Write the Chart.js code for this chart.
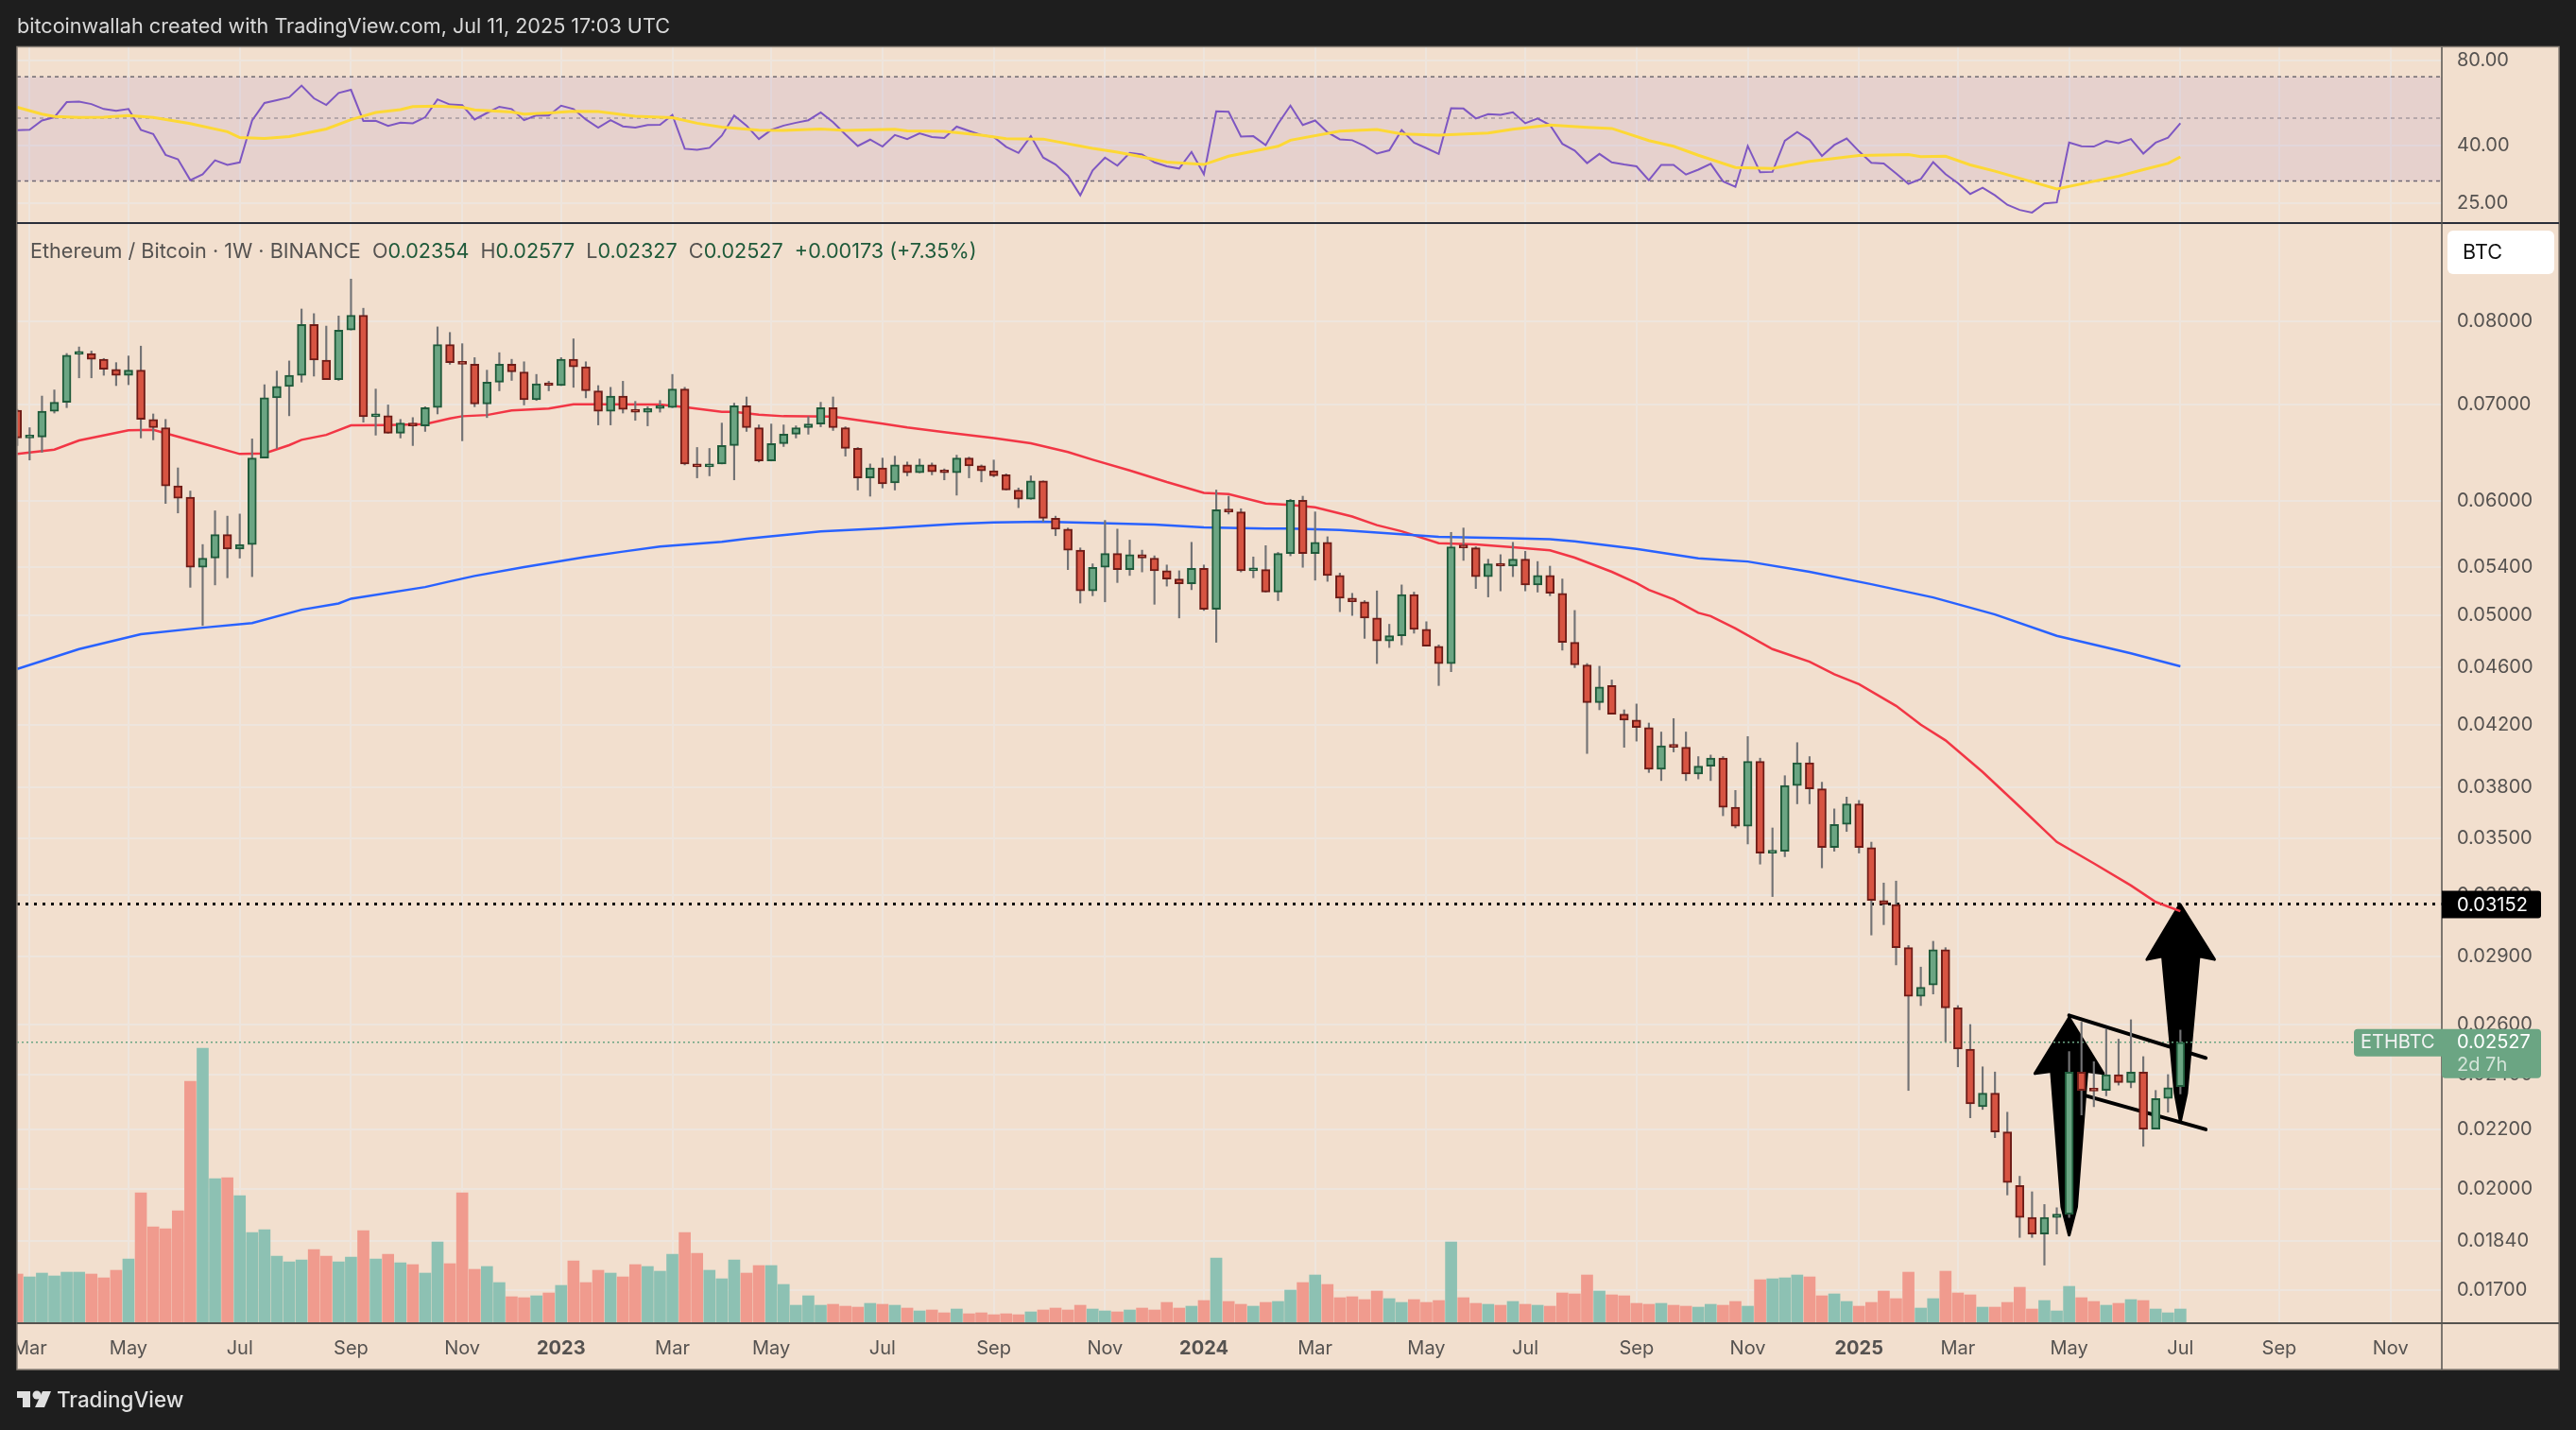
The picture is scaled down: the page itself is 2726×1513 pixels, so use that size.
<!DOCTYPE html>
<html>
<head>
<meta charset="utf-8">
<title>ETHBTC 1W</title>
<script src="https://cdn.jsdelivr.net/npm/chart.js@4"></script>
<style>
  html, body { margin: 0; padding: 0; background: #1e1e1e; }
  canvas { display: block; }
</style>
</head>
<body>
<canvas id="myChart" width="2726" height="1513"></canvas>
<script>
// weekly candles, index 0 = first week of Mar 2022
const opens = [
  0.0694,0.0664,0.0665,0.0693,0.0703,0.0759,0.0760,0.0753,0.0741,0.0734,
  0.0740,0.0684,0.0675,0.0615,0.0604,0.0540,0.0548,0.0569,0.0556,0.0560,
  0.0643,0.0708,0.0721,0.0734,0.0796,0.0752,0.0729,0.0789,0.0808,0.0687,
  0.0688,0.0669,0.0680,0.0677,0.0697,0.0771,0.0749,0.0747,0.0701,0.0726,
  0.0747,0.0738,0.0706,0.0724,0.0722,0.0753,0.0744,0.0716,0.0693,0.0710,
  0.0695,0.0692,0.0696,0.0697,0.0718,0.0637,0.0634,0.0637,0.0656,0.0699,
  0.0675,0.0640,0.0658,0.0668,0.0675,0.0679,0.0697,0.0675,0.0653,0.0623,
  0.0633,0.0618,0.0636,0.0628,0.0636,0.0629,0.0628,0.0643,0.0635,0.0630,
  0.0626,0.0611,0.0602,0.0620,0.0584,0.0574,0.0555,0.0520,0.0540,0.0552,
  0.0538,0.0551,0.0548,0.0537,0.0530,0.0526,0.0539,0.0505,0.0592,0.0590,
  0.0537,0.0538,0.0519,0.0552,0.0601,0.0552,0.0562,0.0533,0.0514,0.0511,
  0.0498,0.0480,0.0484,0.0517,0.0489,0.0476,0.0463,0.0558,0.0557,0.0532,
  0.0543,0.0541,0.0547,0.0525,0.0533,0.0518,0.0479,0.0462,0.0435,0.0447,
  0.0427,0.0423,0.0418,0.0391,0.0406,0.0405,0.0388,0.0393,0.0398,0.0368,
  0.0357,0.0396,0.0342,0.0343,0.0381,0.0395,0.0379,0.0345,0.0358,0.0370,
  0.0345,0.0317,0.0315,0.0294,0.0272,0.0277,0.0293,0.0267,0.0250,0.0228,
  0.0233,0.0219,0.0201,0.0191,0.0186,0.0191,0.0192,0.0241,0.02345,0.0234,
  0.0240,0.0237,0.0241,0.0220,0.0231,0.02354
];
const highs = [
  0.0695,0.0675,0.0710,0.0717,0.0760,0.0768,0.0763,0.0754,0.0749,0.0757,
  0.0769,0.0690,0.0684,0.0633,0.0610,0.0560,0.0591,0.0586,0.0588,0.0663,
  0.0723,0.0739,0.0751,0.0816,0.0810,0.0794,0.0807,0.0856,0.0817,0.0718,
  0.0700,0.0684,0.0686,0.0698,0.0793,0.0786,0.0772,0.0755,0.0740,0.0761,
  0.0753,0.0750,0.0735,0.0727,0.0755,0.0778,0.0750,0.0722,0.0720,0.0727,
  0.0704,0.0698,0.0705,0.0735,0.0720,0.0654,0.0653,0.0680,0.0702,0.0709,
  0.0678,0.0679,0.0678,0.0677,0.0687,0.0703,0.0709,0.0676,0.0654,0.0637,
  0.0643,0.0645,0.0639,0.0642,0.0638,0.0632,0.0646,0.0644,0.0636,0.0641,
  0.0627,0.0613,0.0625,0.0620,0.0586,0.0575,0.0557,0.0543,0.0582,0.0574,
  0.0564,0.0555,0.0550,0.0542,0.0537,0.0562,0.0542,0.0611,0.0605,0.0593,
  0.0549,0.0559,0.0553,0.0602,0.0605,0.0590,0.0567,0.0535,0.0518,0.0512,
  0.0520,0.0493,0.0525,0.0519,0.0495,0.0477,0.0571,0.0575,0.0558,0.0547,
  0.0551,0.0562,0.0554,0.0545,0.0541,0.0530,0.0504,0.0463,0.0461,0.0451,
  0.0430,0.0434,0.0421,0.0415,0.0424,0.0415,0.0399,0.0400,0.0399,0.0378,
  0.0412,0.0398,0.0356,0.0387,0.0408,0.0399,0.0383,0.0367,0.0374,0.0372,
  0.0348,0.0326,0.0327,0.0295,0.0285,0.0297,0.0294,0.0268,0.0260,0.0243,
  0.0241,0.0226,0.0204,0.0199,0.0195,0.0194,0.0249,0.0261,0.0245,0.0258,
  0.0254,0.0262,0.0247,0.0234,0.0240,0.02577
];
const lows = [
  0.0656,0.0641,0.0649,0.0691,0.0697,0.0731,0.0731,0.0734,0.0722,0.0723,
  0.0664,0.0662,0.0598,0.0589,0.0523,0.0492,0.0525,0.0531,0.0548,0.0532,
  0.0643,0.0653,0.0688,0.0726,0.0733,0.0729,0.0728,0.0789,0.0681,0.0667,
  0.0669,0.0664,0.0656,0.0671,0.0690,0.0747,0.0661,0.0698,0.0686,0.0716,
  0.0728,0.0700,0.0705,0.0716,0.0722,0.0720,0.0708,0.0678,0.0678,0.0691,
  0.0683,0.0677,0.0692,0.0697,0.0636,0.0623,0.0625,0.0637,0.0621,0.0671,
  0.0639,0.0640,0.0655,0.0664,0.0668,0.0676,0.0672,0.0645,0.0611,0.0605,
  0.0613,0.0611,0.0625,0.0628,0.0626,0.0621,0.0606,0.0623,0.0619,0.0624,
  0.0611,0.0594,0.0602,0.0581,0.0568,0.0538,0.0510,0.0516,0.0511,0.0527,
  0.0533,0.0536,0.0509,0.0524,0.0498,0.0521,0.0504,0.0479,0.0588,0.0536,
  0.0531,0.0519,0.0512,0.0550,0.0540,0.0529,0.0528,0.0503,0.0500,0.0482,
  0.0463,0.0475,0.0477,0.0486,0.0476,0.0447,0.0457,0.0546,0.0522,0.0515,
  0.0520,0.0532,0.0520,0.0519,0.0516,0.0473,0.0460,0.0401,0.0430,0.0427,
  0.0405,0.0409,0.0389,0.0384,0.0402,0.0384,0.0385,0.0384,0.0363,0.0356,
  0.0347,0.0336,0.0319,0.0340,0.0370,0.0370,0.0334,0.0343,0.0354,0.0342,
  0.0300,0.0305,0.0286,0.0234,0.0268,0.0273,0.0253,0.0243,0.0224,0.0227,
  0.0217,0.0198,0.0185,0.0185,0.0177,0.0186,0.0191,0.0225,0.0228,0.0232,
  0.0236,0.0235,0.0214,0.0220,0.0226,0.02327
];
const closes = [
  0.0664,0.06656,0.0693,0.0703,0.0758,0.0760,0.0753,0.0741,0.0734,0.0740,
  0.0684,0.0675,0.0615,0.0603,0.0540,0.0548,0.0569,0.0556,0.0560,0.0643,
  0.0708,0.0721,0.0734,0.0796,0.0752,0.0729,0.0789,0.0808,0.0687,0.0689,
  0.0669,0.0680,0.0677,0.0697,0.0771,0.0749,0.0747,0.0701,0.0726,0.0747,
  0.0738,0.0706,0.0724,0.0722,0.0753,0.0744,0.0716,0.0693,0.0710,0.0695,
  0.0692,0.0696,0.0697,0.0718,0.0637,0.0634,0.0637,0.0656,0.0699,0.0675,
  0.0640,0.0658,0.0668,0.0675,0.0679,0.0697,0.0675,0.0653,0.0623,0.0633,
  0.0617,0.0636,0.0628,0.0636,0.0629,0.0628,0.0643,0.0635,0.0630,0.0625,
  0.0611,0.0602,0.0620,0.0584,0.0574,0.0555,0.0520,0.0540,0.0552,0.0538,
  0.0551,0.0548,0.0537,0.0530,0.0526,0.0539,0.0505,0.0592,0.0590,0.0537,
  0.0538,0.0519,0.0552,0.0601,0.0552,0.0562,0.0533,0.0514,0.0511,0.0498,
  0.0480,0.0484,0.0517,0.0489,0.0476,0.0463,0.0558,0.0557,0.0532,0.0543,
  0.0541,0.0547,0.0525,0.0533,0.0518,0.0479,0.0462,0.0435,0.0446,0.0427,
  0.0423,0.0418,0.0391,0.0406,0.0405,0.0388,0.0393,0.0398,0.0368,0.0357,
  0.0396,0.0342,0.0343,0.0381,0.0395,0.0379,0.0345,0.0358,0.0370,0.0345,
  0.0317,0.0315,0.0294,0.0272,0.0276,0.0293,0.0267,0.0250,0.0229,0.0233,
  0.0219,0.0202,0.0191,0.0186,0.0191,0.0192,0.0241,0.0234,0.02338,0.0240,
  0.0237,0.0241,0.0220,0.0231,0.0235,0.02527
];
// volume has no axis in the picture, so these are relative units
const volumes = [
  51,48,52,49,53,53,51,47,55,67,
  137,101,99,118,255,290,152,153,134,95,
  98,70,64,66,77,70,64,69,97,67,
  72,63,61,52,85,62,137,56,59,42,
  27,26,28,31,39,65,42,55,52,48,
  61,59,54,72,95,73,55,46,66,52,
  60,60,40,18,28,18,19,17,16,20,
  19,18,15,12,13,10,14,9,10,8,
  9,8,11,13,15,13,18,14,12,11,
  13,15,13,21,15,17,23,68,22,19,
  17,21,22,34,42,50,40,26,27,24,
  33,25,21,24,21,23,85,26,20,19,
  18,22,19,18,17,31,30,50,33,29,
  28,20,19,20,18,17,16,19,18,22,
  17,45,46,47,50,48,28,30,22,17,
  21,33,25,53,15,25,54,31,29,16,
  16,21,37,14,23,12,38,26,22,18,
  20,24,23,14,10,14
];
const rsiValues = [
  45.4,45.5,49.1,50.4,57.0,57.2,56.1,53.9,53.1,53.9,
  45.5,44.0,37.1,35.8,30.2,31.7,35.5,34.2,34.9,49.1,
  56.6,57.9,59.3,65.2,58.8,55.7,61.4,63.0,48.9,49.0,
  47.0,48.2,48.0,50.4,58.3,55.9,55.6,49.5,52.2,54.9,
  53.9,49.2,51.2,51.1,55.4,53.9,49.5,46.3,49.2,46.8,
  46.3,47.3,47.4,51.3,39.0,38.7,39.3,43.4,51.1,47.1,
  42.2,45.5,47.1,48.2,49.2,52.4,48.4,43.8,39.9,42.0,
  39.7,43.6,42.2,44.2,42.9,42.6,46.7,45.1,43.6,42.9,
  39.6,37.7,43.2,36.3,34.3,31.3,26.7,32.7,36.3,34.0,
  37.7,37.2,34.9,33.8,33.2,38.0,31.7,52.9,52.7,43.1,
  43.2,40.2,47.8,55.4,47.3,49.1,44.6,42.1,41.8,39.9,
  37.5,38.5,45.4,41.0,39.2,37.4,54.2,54.1,49.9,51.7,
  51.4,52.5,48.0,49.9,47.3,40.6,38.4,34.7,37.4,34.9,
  34.3,33.8,30.2,34.2,34.2,31.6,32.9,34.5,29.9,28.6,
  39.9,32.2,32.3,41.6,44.7,41.9,36.8,40.2,42.4,38.2,
  34.8,34.6,31.9,29.3,30.5,35.0,31.7,29.5,27.0,28.4,
  26.7,24.7,23.7,23.2,25.0,25.2,41.0,39.8,39.7,41.6,
  40.8,42.2,37.5,41.0,42.7,48.0
];
// the smooth lines are read at their bends only
const rsiMaWeeks = [0,2,3,5,7,9,11,14,17,18,20,22,25,27,29,31,32,34,36,37,40,41,43,45,47,50,53,55,57,60,62,65,67,71,72,75,78,80,83,84,87,89,91,93,96,98,102,103,107,110,112,115,119,121,124,127,129,132,134,136,139,142,145,149,153,154,156,158,160,163,165,170,172,174,175];
const rsiMaValues = [54.7,51.7,50.7,50.3,50.4,51.1,50.3,47.9,44.8,42.7,42.4,43.1,45.8,49.4,52.4,53.6,55.0,55.2,54.7,53.5,52.6,51.7,52.2,52.9,52.8,50.8,50.2,48.0,46.5,45.4,45.3,45.8,45.3,45.7,45.1,44.9,43.6,42.3,42.2,41.4,39.1,37.9,36.5,35.0,34.3,36.7,39.8,41.8,45.0,45.6,44.0,43.6,44.3,45.7,47.3,46.4,46.0,41.7,39.8,37.0,33.5,33.2,35.2,36.9,37.2,36.6,36.7,34.2,32.5,29.8,28.1,31.2,32.9,34.6,36.5];
const emaWeeks = [0,3,5,9,11,15,18,20,22,23,25,27,30,33,35,36,38,40,43,45,47,52,54,57,58,60,62,66,70,72,75,79,82,85,87,90,93,96,98,101,103,105,108,110,112,115,118,121,124,126,129,131,132,134,136,137,139,142,145,147,149,152,154,156,159,162,165,168,171,173,175];
const emaValues = [0.06472,0.06518,0.06614,0.06721,0.06727,0.06581,0.06472,0.06478,0.06564,0.0662,0.06673,0.06776,0.06779,0.06789,0.0685,0.06875,0.06888,0.06938,0.0696,0.07008,0.07008,0.07005,0.06976,0.06923,0.06923,0.06891,0.06875,0.06871,0.06793,0.06752,0.06702,0.0664,0.06584,0.06492,0.06413,0.06304,0.06188,0.06083,0.0607,0.0598,0.05965,0.05944,0.05856,0.05776,0.0572,0.05612,0.05601,0.05576,0.05548,0.05484,0.05361,0.05266,0.05209,0.05131,0.05021,0.04995,0.04897,0.04738,0.04644,0.04552,0.0448,0.04327,0.04199,0.04095,0.03893,0.03683,0.03481,0.03364,0.03247,0.03163,0.03116];
const smaWeeks = [0,5,10,15,19,23,26,27,33,35,37,41,46,49,52,57,59,65,70,76,79,83,87,92,96,101,103,107,115,120,124,126,131,136,140,145,150,155,160,165,171,175];
const smaValues = [0.0459,0.04738,0.04852,0.04903,0.0494,0.05046,0.05097,0.05136,0.05232,0.0528,0.05326,0.05401,0.0549,0.05537,0.05582,0.05624,0.05653,0.05718,0.05747,0.05788,0.05802,0.05808,0.05797,0.05782,0.05756,0.05744,0.05744,0.05732,0.0567,0.05659,0.05647,0.05629,0.05561,0.05478,0.0545,0.05361,0.05256,0.05146,0.05008,0.0484,0.04706,0.04609];

// tick labels
const priceTicks = [0.08,0.07,0.06,0.054,0.05,0.046,0.042,0.038,0.035,0.032,0.029,0.026,0.024,0.022,0.02,0.0184,0.017];
const rsiTicks = [80,40,25];
const monthWeeks = [1,9,18,27,36,44,53,61,70,79,88,96,105,114,122,131,140,149,157,166,175,183,192];
const monthLabels = ["Mar","May","Jul","Sep","Nov","2023","Mar","May","Jul","Sep","Nov","2024","Mar","May","Jul","Sep","Nov","2025","Mar","May","Jul","Sep","Nov"];

// levels and drawings on the chart, week index + price
const lastPrice = 0.02527;
const targetPrice = 0.03152;
const rsiBandHigh = 70;
const rsiBandMid = 50;
const rsiBandLow = 30;
const channelTopWeeks = [166,177.05];
const channelTopPrices = [0.02638,0.02465];
const channelLowWeeks = [167.3,177.05];
const channelLowPrices = [0.02321,0.02199];
const arrowOneWeeks = [166,168.77,167.44,166.6,166,165.41,164.56,163.23];
const arrowOnePrices = [0.02628,0.02404,0.02413,0.01943,0.01857,0.01943,0.02413,0.02404];
const arrowTwoWeeks = [174.97,177.76,176.5,175.5,175,174.58,173.56,172.29];
const arrowTwoPrices = [0.03151,0.02885,0.029,0.02329,0.02226,0.02329,0.029,0.02885];

const xMin = -0.02;
const xMax = 196.15;
const weeks = opens.map((_, i) => i);

const FONT = "Inter, 'Noto Sans', sans-serif";
const PANE_BG = "#f2dfce";
const GRID = "#eee5dd";
const UP = "#6ba583";
const DOWN = "#d75442";

function pairs(xs, ys) {
  return xs.map((x, i) => ({ x: x, y: ys[i] }));
}

function level(value) {
  return [{ x: xMin, y: value }, { x: xMax, y: value }];
}

function lineSet(data, axis, color, width, order, extra) {
  return Object.assign({
    type: "line",
    data: data,
    yAxisID: axis,
    borderColor: color,
    borderWidth: width,
    pointRadius: 0,
    tension: 0,
    fill: false,
    order: order,
  }, extra || {});
}

// draws a polygon given in week / price through the scales
function drawArrow(chart, xs, ys) {
  const ctx = chart.ctx;
  const sx = chart.scales.x;
  const sy = chart.scales.y;
  ctx.save();
  ctx.beginPath();
  xs.forEach((w, i) => {
    const px = sx.getPixelForValue(w);
    const py = sy.getPixelForValue(ys[i]);
    if (i === 0) ctx.moveTo(px, py);
    else ctx.lineTo(px, py);
  });
  ctx.closePath();
  ctx.fillStyle = "#000";
  ctx.strokeStyle = "#000";
  ctx.lineWidth = 3;
  ctx.lineJoin = "round";
  ctx.fill();
  ctx.stroke();
  ctx.restore();
}

function roundBox(ctx, x, y, w, h, radii, color) {
  ctx.beginPath();
  ctx.roundRect(x, y, w, h, radii);
  ctx.fillStyle = color;
  ctx.fill();
}

function label(ctx, text, x, y, color, font, align) {
  ctx.font = font;
  ctx.fillStyle = color;
  ctx.textAlign = align || "left";
  ctx.textBaseline = "middle";
  ctx.fillText(text, x, y);
}

const tradingViewChrome = {
  id: "tradingViewChrome",
  beforeDraw(chart) {
    const ctx = chart.ctx;
    ctx.save();
    ctx.fillStyle = "#1e1e1e";
    ctx.fillRect(0, 0, chart.width, chart.height);
    ctx.fillStyle = PANE_BG;
    ctx.fillRect(18, 49, 2690, 1400);
    ctx.restore();
  },
  beforeDatasetsDraw(chart) {
    drawArrow(chart, arrowOneWeeks, arrowOnePrices);
    drawArrow(chart, arrowTwoWeeks, arrowTwoPrices);
  },
  afterDraw(chart) {
    const ctx = chart.ctx;
    const axisX = chart.chartArea.right;
    const paneY = chart.scales.y.top;
    const bottomY = chart.chartArea.bottom;
    const sy = chart.scales.y;
    ctx.save();

    // left margin hides the clipped first month label
    ctx.fillStyle = "#1e1e1e";
    ctx.fillRect(0, 40, 18, 1420);

    // frame and pane separators
    ctx.strokeStyle = "#8a8178";
    ctx.lineWidth = 1.5;
    ctx.strokeRect(18, 49.5, 2690, 1399.5);
    ctx.strokeStyle = "#2a2e39";
    ctx.lineWidth = 2;
    ctx.beginPath(); ctx.moveTo(18, paneY); ctx.lineTo(2708, paneY); ctx.stroke();
    ctx.strokeStyle = "#55534f";
    ctx.lineWidth = 2;
    ctx.beginPath(); ctx.moveTo(18, bottomY); ctx.lineTo(2708, bottomY); ctx.stroke();
    ctx.lineWidth = 1.5;
    ctx.beginPath(); ctx.moveTo(axisX, 50); ctx.lineTo(axisX, 1449); ctx.stroke();

    // caption and legend line
    label(ctx, "bitcoinwallah created with TradingView.com, Jul 11, 2025 17:03 UTC", 18, 28, "#d9d9d9", "21.6px " + FONT);
    const legend = [
      ["Ethereum / Bitcoin · 1W · BINANCE", "#555250"],
      ["  O", "#555250"], ["0.02354", "#1f5a3a"],
      ["  H", "#555250"], ["0.02577", "#1f5a3a"],
      ["  L", "#555250"], ["0.02327", "#1f5a3a"],
      ["  C", "#555250"], ["0.02527", "#1f5a3a"],
      ["  +0.00173 (+7.35%)", "#1f5a3a"],
    ];
    let lx = 32;
    legend.forEach((part) => {
      label(ctx, part[0], lx, 266, part[1], "21.6px " + FONT);
      lx += ctx.measureText(part[0]).width;
    });

    // BTC currency button
    roundBox(ctx, 2590, 244, 113, 46, 6, "#ffffff");
    label(ctx, "BTC", 2606, 267, "#111111", "21.6px " + FONT);

    // price tags on the axis
    const targetY = sy.getPixelForValue(targetPrice);
    roundBox(ctx, axisX, targetY - 14, 105, 29, [0, 3, 3, 0], "#000000");
    label(ctx, targetPrice.toFixed(5), 2600, targetY + 1, "#ffffff", "20px " + FONT);

    const lastY = sy.getPixelForValue(lastPrice);
    roundBox(ctx, 2491, lastY - 14, 94, 29, [4, 0, 0, 4], UP);
    roundBox(ctx, axisX, lastY - 14, 105, 52, [0, 4, 4, 4], UP);
    label(ctx, "ETHBTC", 2498, lastY + 0.5, "#f2f2f2", "20px " + FONT);
    label(ctx, lastPrice.toFixed(5), 2600, lastY + 0.5, "#ffffff", "20px " + FONT);
    label(ctx, "2d 7h", 2600, lastY + 24, "#d4e4d9", "20px " + FONT);

    // TradingView mark
    ctx.fillStyle = "#e0e0e0";
    ctx.fillRect(18, 1472, 14, 7);
    ctx.fillRect(24, 1472, 8, 17);
    ctx.beginPath(); ctx.arc(39, 1476, 4.5, 0, Math.PI * 2); ctx.fill();
    ctx.beginPath();
    ctx.moveTo(45, 1472); ctx.lineTo(54, 1472); ctx.lineTo(47, 1489); ctx.lineTo(37, 1489);
    ctx.closePath(); ctx.fill();
    label(ctx, "TradingView", 60, 1482, "#e0e0e0", "500 22.4px " + FONT);

    ctx.restore();
  },
};

const ctx = document.getElementById("myChart").getContext("2d");
new Chart(ctx, {
  data: {
    datasets: [
      // volume sits at the bottom of the main pane
      {
        type: "bar",
        data: pairs(weeks, volumes),
        yAxisID: "yVolume",
        grouped: false,
        barThickness: 12,
        backgroundColor: weeks.map((i) => (closes[i] >= opens[i] ? "#8dc1b3" : "#f09b8e")),
        order: 8,
      },
      // RSI band and levels
      lineSet(level(rsiBandHigh), "yRsi", "#6f6a70", 1.5, 7, {
        borderDash: [4, 4],
        fill: "+1",
        backgroundColor: "rgba(126,87,194,0.1)",
      }),
      lineSet(level(rsiBandLow), "yRsi", "#6f6a70", 1.5, 7, { borderDash: [4, 4] }),
      lineSet(level(rsiBandMid), "yRsi", "#aaa19c", 1.5, 7, { borderDash: [4, 4] }),
      lineSet(pairs(weeks, rsiValues), "yRsi", "#7e57c2", 2, 6),
      lineSet(pairs(rsiMaWeeks, rsiMaValues), "yRsi", "#fdd835", 3, 5),
      // levels on the price pane
      lineSet(level(lastPrice), "y", "#6ba583", 1.5, 7, { borderDash: [2, 3] }),
      lineSet(level(targetPrice), "y", "#000000", 3, 4, { borderDash: [3, 6] }),
      lineSet(pairs(channelTopWeeks, channelTopPrices), "y", "#000000", 4, 4, { borderCapStyle: "round" }),
      lineSet(pairs(channelLowWeeks, channelLowPrices), "y", "#000000", 4, 4, { borderCapStyle: "round" }),
      lineSet(pairs(smaWeeks, smaValues), "y", "#2962ff", 2.5, 3),
      lineSet(pairs(emaWeeks, emaValues), "y", "#f23645", 2.5, 3),
      // wicks
      {
        type: "bar",
        data: weeks.map((i) => ({ x: i, y: [lows[i], highs[i]] })),
        yAxisID: "y",
        grouped: false,
        barThickness: 1.5,
        backgroundColor: "#737375",
        order: 2,
      },
      // candle bodies
      {
        type: "bar",
        data: weeks.map((i) => ({ x: i, y: [opens[i], closes[i]] })),
        yAxisID: "y",
        grouped: false,
        barThickness: 9,
        minBarLength: 3,
        borderWidth: 2,
        borderSkipped: false,
        backgroundColor: weeks.map((i) => (closes[i] >= opens[i] ? UP : DOWN)),
        borderColor: weeks.map((i) => (closes[i] >= opens[i] ? "#1f5a3a" : "#6e1c17")),
        order: 1,
      },
    ],
  },
  options: {
    responsive: false,
    animation: false,
    devicePixelRatio: 1,
    parsing: { xAxisKey: "x", yAxisKey: "y" },
    layout: { padding: { left: 18, top: 50, right: 18, bottom: 64 } },
    plugins: { legend: { display: false }, tooltip: { enabled: false } },
    scales: {
      x: {
        type: "linear",
        min: xMin,
        max: xMax,
        // bar datasets switch this on by default, it would pad the week axis
        offset: false,
        afterBuildTicks(scale) {
          scale.ticks = monthWeeks.map((w) => ({ value: w }));
        },
        afterFit(scale) {
          scale.height = 49;
          // the axis is pinned to the pane edges, labels may overhang
          scale.paddingLeft = 0;
          scale.paddingRight = 0;
        },
        grid: { color: GRID, lineWidth: 2, drawTicks: false, offset: false },
        border: { display: false },
        ticks: {
          autoSkip: false,
          maxRotation: 0,
          padding: 15,
          color: "#555250",
          font: (c) => ({
            family: FONT,
            size: 20,
            weight: c.tick && /^\d/.test(monthLabels[monthWeeks.indexOf(c.tick.value)]) ? "bold" : "normal",
          }),
          callback: (value) => monthLabels[monthWeeks.indexOf(value)],
        },
      },
      yRsi: {
        type: "logarithmic",
        position: "right",
        stack: "panes",
        stackWeight: 186,
        weight: 1,
        min: 21.3,
        max: 89.1,
        afterBuildTicks(scale) {
          scale.ticks = rsiTicks.map((v) => ({ value: v }));
        },
        afterFit(scale) {
          scale.width = 124;
        },
        grid: { color: GRID, lineWidth: 2, drawTicks: false },
        border: { display: false },
        ticks: {
          autoSkip: false,
          padding: 16,
          color: "#555250",
          font: { family: FONT, size: 20 },
          callback: (value) => value.toFixed(2),
        },
      },
      y: {
        type: "logarithmic",
        position: "right",
        stack: "panes",
        stackWeight: 1164,
        weight: 2,
        min: 0.01613,
        max: 0.09362,
        afterBuildTicks(scale) {
          scale.ticks = priceTicks.map((v) => ({ value: v }));
        },
        afterFit(scale) {
          scale.width = 124;
        },
        grid: { color: GRID, lineWidth: 2, drawTicks: false },
        border: { display: false },
        ticks: {
          autoSkip: false,
          padding: 16,
          color: "#555250",
          font: { family: FONT, size: 20 },
          callback: (value) => value.toFixed(5),
        },
      },
      yVolume: {
        type: "linear",
        display: false,
        position: "left",
        min: -1,
        max: 1349,
      },
    },
  },
  plugins: [tradingViewChrome],
});
</script>
</body>
</html>
